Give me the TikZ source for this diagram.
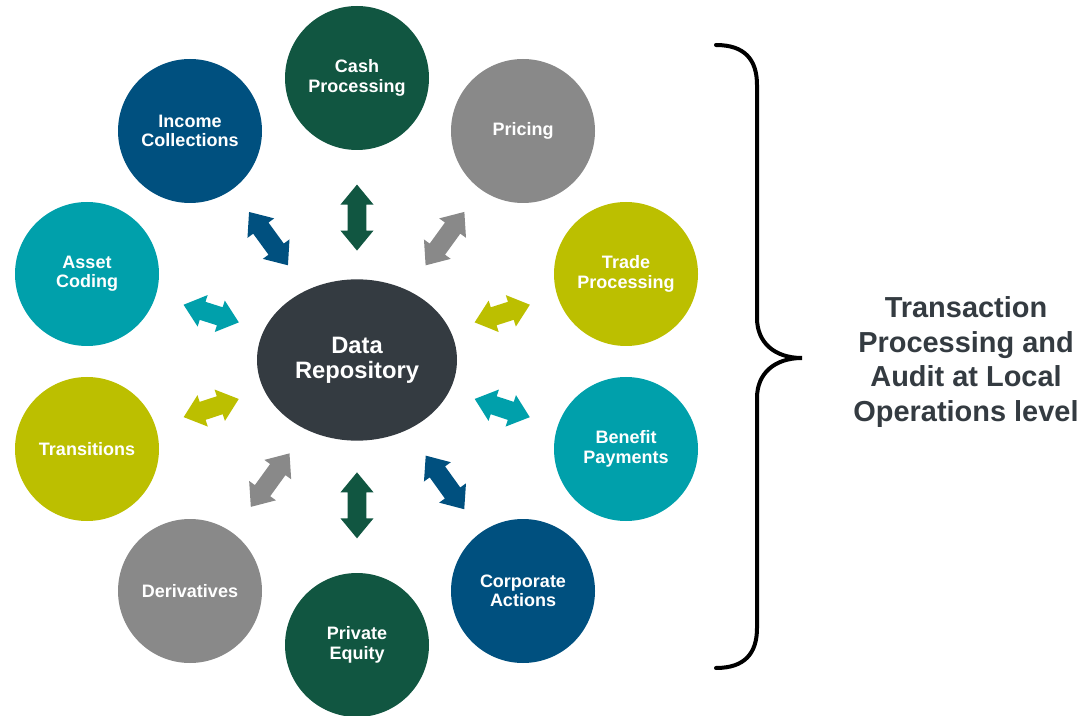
\documentclass[tikz,border=0pt]{standalone}
\usepackage{fontspec}
\setmainfont{Liberation Sans}
\usetikzlibrary{calc,shapes.geometric}
\definecolor{cgreen}{HTML}{115641}
\definecolor{cgray}{HTML}{898989}
\definecolor{colive}{HTML}{BCBF00}
\definecolor{cteal}{HTML}{00A0AB}
\definecolor{cblue}{HTML}{00507F}
\definecolor{cdark}{HTML}{343B41}
% #1 id, #2 colour, #3 from node, #4 to node, #5 fraction, #6 half length
\newcommand\dblarrow[6]{%
  \coordinate (#1m) at ($(#3)!#5!(#4)$);
  \coordinate (#1a) at ($(#1m)!#6!(#4)$);
  \coordinate (#1b) at ($(#1m)!#6!180:(#4)$);
  \coordinate (#1ha) at ($(#1m)!#6-15pt!(#4)$);
  \coordinate (#1hb) at ($(#1m)!#6-15pt!180:(#4)$);
  \fill[#2] (#1a) -- ($(#1ha)!12.4pt!90:(#1a)$) -- ($(#1ha)!7.1pt!90:(#1a)$)
    -- ($(#1hb)!7.1pt!-90:(#1b)$) -- ($(#1hb)!12.4pt!-90:(#1b)$) -- (#1b)
    -- ($(#1hb)!12.4pt!90:(#1b)$) -- ($(#1hb)!7.1pt!90:(#1b)$)
    -- ($(#1ha)!7.1pt!-90:(#1a)$) -- ($(#1ha)!12.4pt!-90:(#1a)$) -- cycle;}
\begin{document}
\begin{tikzpicture}[x=0.75pt,y=-0.75pt,
  bubble/.style={circle, minimum size=108pt, inner sep=0pt, text=white,
    align=center, font=\fontsize{13.5}{14.5}\selectfont\bfseries}]
\useasboundingbox (0,0) rectangle (1092,716);
\node[ellipse, fill=cdark, minimum width=150pt, minimum height=121pt, inner sep=0pt,
  text=white, align=center, font=\fontsize{17.8}{18.8}\selectfont\bfseries]
  (repo) at (357,360) {Data\\Repository};
\node[bubble, fill=cgreen] (cash) at (357,78) {Cash\\Processing};
\node[bubble, fill=cgray] (pricing) at (523,131) {Pricing};
\node[bubble, fill=colive] (trade) at (626,274) {Trade\\Processing};
\node[bubble, fill=cteal] (benefit) at (626,449) {Benefit\\Payments};
\node[bubble, fill=cblue] (corp) at (523,591) {Corporate\\Actions};
\node[bubble, fill=cgreen] (pe) at (357,645) {Private\\Equity};
\node[bubble, fill=cgray] (deriv) at (190,591) {Derivatives};
\node[bubble, fill=colive] (trans) at (87,449) {Transitions};
\node[bubble, fill=cteal] (asset) at (87,274) {Asset\\Coding};
\node[bubble, fill=cblue] (income) at (190,131) {Income\\Collections};

\dblarrow{A1}{cgreen}{repo}{cash}{0.505}{24.75pt}
\dblarrow{A2}{cgray}{repo}{pricing}{0.53}{24.75pt}
\dblarrow{A3}{colive}{repo}{trade}{0.54}{21.75pt}
\dblarrow{A4}{cteal}{repo}{benefit}{0.54}{21.75pt}
\dblarrow{A5}{cblue}{repo}{corp}{0.53}{24.75pt}
\dblarrow{A6}{cgreen}{repo}{pe}{0.51}{24.75pt}
\dblarrow{A7}{cgray}{repo}{deriv}{0.52}{24.75pt}
\dblarrow{A8}{colive}{repo}{trans}{0.54}{21.75pt}
\dblarrow{A9}{cteal}{repo}{asset}{0.54}{21.75pt}
\dblarrow{A10}{cblue}{repo}{income}{0.53}{24.75pt}

\draw[line width=3pt, line cap=round] (716,45) .. controls (745,45) and (757,60) .. (757,85)
  -- (757,318) .. controls (757,343) and (775,358) .. (802,358)
  .. controls (775,358) and (757,373) .. (757,398)
  -- (757,628) .. controls (757,653) and (745,668) .. (716,668);
\node[text=cdark, align=center, font=\fontsize{21.7}{26}\selectfont\bfseries]
  (label) at (966,362) {Transaction\\Processing and\\Audit at Local\\Operations level};
\end{tikzpicture}
\end{document}
